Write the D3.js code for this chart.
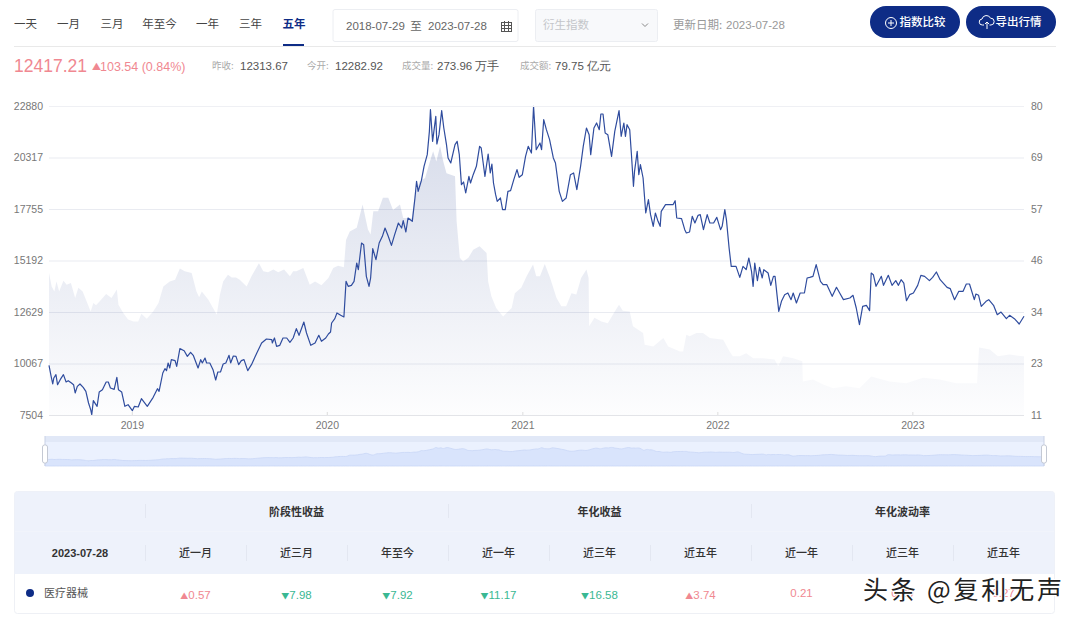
<!DOCTYPE html>
<html>
<head>
<meta charset="utf-8">
<title>医疗器械</title>
<script src="https://cdnjs.cloudflare.com/ajax/libs/d3/7.8.5/d3.min.js"></script>
<style>
  body { margin: 0; background: #fff; }
  svg { display: block; }
  text { font-family: "Noto Sans CJK SC", "Noto Sans", sans-serif; }
  .num { font-family: "Liberation Sans", Arial, sans-serif; }
  .domain { display: none; }
</style>
</head>
<body>
<div id="content"></div>
<script>
// all series start on this date, x values are days after it
var startDate = new Date(2018, 6, 30);

var closeDays = [
  0,4,7,9,13,16,21,27,32,36,42,46,49,53,58,64,69,74,78,80,83,90,94,100,107,111,115,122,127,130,
  136,142,148,156,160,167,173,184,195,203,206,213,217,220,223,226,229,236,239,245,253,259,265,270,279,284,287,292,295,301,
  307,312,316,321,326,331,337,340,345,350,355,360,365,372,379,389,398,407,417,418,422,426,432,438,445,451,457,463,468,473,
  477,482,490,498,505,510,518,523,527,529,535,539,546,552,556,560,566,571,576,579,585,589,594,599,602,606,612,618,624,629,
  635,641,647,654,660,663,668,672,680,685,688,691,697,702,708,712,714,718,724,726,730,735,739,744,747,752,760,764,768,772,
  776,780,786,789,794,800,806,809,816,822,826,829,832,836,839,845,849,854,859,864,870,876,880,886,892,897,903,907,912,919,
  922,926,931,937,944,948,955,961,968,976,982,988,995,1000,1006,1011,1014,1020,1025,1030,1033,1037,1041,1046,1053,1059,1067,1071,1076,1079,
  1082,1087,1090,1094,1096,1101,1104,1107,1112,1117,1122,1126,1131,1135,1140,1144,1146,1154,1168,1172,1175,1184,1190,1193,1199,1204,1209,1215,1219,1225,
  1232,1237,1244,1250,1257,1260,1265,1268,1273,1277,1286,1293,1299,1305,1310,1315,1318,1321,1326,1330,1335,1338,1346,1351,1356,1359,1363,1366,1371,1377,
  1383,1389,1393,1399,1406,1414,1419,1424,1430,1436,1444,1449,1456,1466,1474,1480,1487,1499,1505,1511,1517,1523,1530,1536,1539,1543,1548,1558,1562,1571,
  1578,1585,1590,1595,1600,1605,1611,1618,1626,1632,1639,1648,1654,1661,1668,1681,1687,1695,1703,1711,1717,1723,1732,1735,1740,1745,1754,1759,1768,1775,
  1782,1792,1798,1807,1816,1825
];

var closeValues = [
  9975,9428,9047,9345,9511,9013,9262,9511,9146,9212,9096,9013,8599,8930,9047,8881,8682,8101,7769,7521,8217,7935,8649,8765,9146,9146,8848,8781,9378,8765,
  8649,7935,8018,7720,7935,7902,8317,7935,8383,8814,8682,9594,9810,9710,10092,9843,10257,10208,9926,10805,10705,10423,10622,10473,9843,10257,10092,10340,10092,10092,
  9760,9246,9644,9644,10042,10092,10473,10092,10440,10423,10009,10208,10257,9710,10009,10589,11087,11286,11253,11087,11336,10921,10971,11336,11336,11120,11336,11800,11468,11833,
  12132,11584,10971,11087,11468,11170,11336,11535,11634,12082,12298,12580,12464,12381,14155,13907,13956,14155,15068,14736,16063,15980,14404,13907,14321,15781,15234,16063,16395,16809,
  16395,15947,16478,17058,16809,17174,16610,17307,17141,18302,19131,18634,19165,19878,20458,21620,22698,21122,22366,20989,21454,22648,21785,20956,20293,20044,20956,21122,20458,18966,
  19098,18551,19380,19049,19463,19878,20873,20790,19380,20492,19546,19994,19049,18468,18136,18302,17722,17722,18634,18667,19214,19712,19331,19463,20376,20873,20541,22864,20707,21039,
  20707,22200,21702,21205,20293,20044,18634,18136,18302,19463,19546,18717,19878,20873,21785,21454,20458,21785,22034,21702,22482,22482,21537,21454,20376,21620,22648,21371,22034,21371,
  21951,21702,20541,18883,19629,20624,19463,19961,19297,17556,18219,17473,16892,17556,17141,16892,17639,17970,17970,18169,17307,17274,16726,16561,16610,17390,17058,17440,17473,16726,
  17473,17058,17058,17340,16726,16892,17722,17224,15814,14902,14902,14354,14902,14736,15316,14653,13907,15068,14189,14852,14321,14736,14570,13956,14404,14404,13409,12663,13160,13492,
  13575,13243,13575,13077,13575,13575,14321,14354,14404,14985,14155,13990,13990,13409,13857,13575,13243,13326,13459,12828,11999,12911,12961,12696,14570,14487,13907,14404,13956,14454,
  13956,14189,13956,14238,14072,13193,13492,13575,13956,14454,14404,14189,14354,14620,14238,13857,13790,13243,13658,13658,14023,14023,13243,13525,13459,12911,13160,13243,12961,12497,
  12629,12298,12464,12298,12032,12417
];

var amountDays = [
  0,5,10,14,19,27,33,41,49,55,63,69,78,83,88,95,107,117,127,130,139,148,158,167,173,183,195,205,214,226,
  236,245,254,267,276,281,286,298,307,314,320,326,335,342,350,357,370,379,393,401,410,420,429,440,451,457,463,476,488,498,
  510,523,532,541,552,556,563,576,587,597,602,607,616,625,635,644,657,663,679,685,694,704,713,719,725,732,738,744,760,763,
  769,775,785,794,806,819,822,828,837,850,866,872,884,894,906,912,919,928,938,950,959,968,978,987,996,1006,1010,1011,1021,1034,
  1046,1059,1067,1074,1087,1093,1112,1115,1131,1150,1159,1181,1187,1193,1199,1212,1224,1237,1262,1274,1280,1293,1305,1318,1336,1358,1365,1374,1393,1410,
  1411,1430,1449,1468,1492,1517,1539,1573,1605,1636,1667,1698,1737,1741,1761,1776,1798,1823,1825
];

var amountValues = [
  42.7,39.7,38.6,40.8,38.6,41.0,40.1,40.5,37.1,39.4,38.6,36.8,34.1,36.0,35.5,36.4,38.0,37.1,39.0,35.6,33.8,32.3,31.9,31.9,33.6,32.5,34.1,36.0,39.7,40.8,
  41.2,43.7,43.1,42.7,38.6,37.3,38.6,36.8,34.9,33.4,37.9,40.8,42.3,41.7,41.7,41.2,39.7,42.0,44.9,43.1,42.9,43.5,42.9,43.5,42.0,43.1,43.1,43.8,40.1,40.8,
  40.0,41.6,43.8,44.3,44.0,50.1,52.0,52.8,58.0,52.4,51.3,56.5,56.5,59.5,59.5,56.8,58.0,55.0,55.0,60.2,63.2,63.9,67.6,69.9,67.6,71.0,67.6,65.0,64.3,54.2,
  46.1,45.3,46.1,47.9,48.7,47.2,40.8,37.5,34.9,33.0,34.9,38.2,39.4,42.0,44.6,42.0,42.0,44.7,41.6,37.1,35.3,35.3,38.2,37.9,41.6,43.5,41.6,30.8,32.7,31.9,
  31.5,34.1,35.6,34.3,34.1,30.8,29.3,26.7,26.3,28.2,26.3,25.2,25.2,28.9,28.6,29.3,29.3,28.2,27.8,25.2,24.1,24.1,24.8,23.7,23.7,23.4,21.9,24.1,23.7,23.0,
  18.5,18.9,17.8,17.0,17.4,17.0,19.6,18.5,18.1,19.3,18.9,18.1,18.1,26.1,25.6,24.1,24.5,24.1,24.1
];

var leftTicks = [7504, 10067, 12629, 15192, 17755, 20317, 22880];
var rightTicks = [11, 22.5, 34, 45.5, 57, 68.5, 80];
var yearTicks = [2019, 2020, 2021, 2022, 2023];

var rangeTabs = ["一天", "一月", "三月", "年至今", "一年", "三年", "五年"];
var tabCenters = [25.5, 68.5, 112, 159.5, 207.5, 250.5, 294];

var statLabels = ["昨收:", "今开:", "成交量:", "成交额:"];
var statValues = ["12313.67", "12282.92", "273.96 万手", "79.75 亿元"];

var groupTitles = ["阶段性收益", "年化收益", "年化波动率"];
var columnTitles = ["近一月", "近三月", "年至今", "近一年", "近三年", "近五年", "近一年", "近三年", "近五年"];
var returnValues = [0.57, -7.98, -7.92, -11.17, -16.58, 3.74];
var volatilityValues = [0.21, 0.29, 0.27];

var NAVY = "#0e2c86", RED = "#f08891", GREEN = "#3ab893", GREY = "#666";

var svg = d3.select("#content").append("svg").attr("width", 1080).attr("height", 622);

var defs = svg.append("defs");
var fade = defs.append("linearGradient").attr("id", "fade")
  .attr("gradientUnits", "userSpaceOnUse")
  .attr("x1", 0).attr("x2", 0).attr("y1", 150).attr("y2", 415);
fade.append("stop").attr("offset", 0).attr("stop-color", "#25408f").attr("stop-opacity", 0.17);
fade.append("stop").attr("offset", 1).attr("stop-color", "#25408f").attr("stop-opacity", 0.01);

function dayToDate(d) {
  return d3.timeDay.offset(startDate, d);
}

function label(g, x, y, str, size, fill, anchor, weight, cls) {
  return g.append("text")
    .attr("x", x).attr("y", y)
    .attr("dy", "0.35em")
    .attr("text-anchor", anchor || "start")
    .attr("font-size", size)
    .attr("font-weight", weight || 400)
    .attr("fill", fill)
    .attr("class", cls || null)
    .text(str);
}

/* ---- top bar ---- */
var header = svg.append("g");

rangeTabs.forEach(function (t, i) {
  var active = i == rangeTabs.length - 1;
  label(header, tabCenters[i], 24, t, 11.5, active ? NAVY : "#444", "middle", active ? 700 : 400);
});
header.append("rect").attr("x", 283).attr("y", 44).attr("width", 21).attr("height", 2).attr("fill", NAVY);
header.append("line").attr("x1", 14).attr("x2", 1056).attr("y1", 46.5).attr("y2", 46.5).attr("stroke", "#e9e9e9");

header.append("rect").attr("x", 333).attr("y", 9.5).attr("width", 185).attr("height", 32).attr("rx", 2)
  .attr("fill", "#fff").attr("stroke", "#eceef2");
label(header, 346, 26, "2018-07-29", 11.5, GREY, "start", 400, "num");
label(header, 416, 26, "至", 11.5, GREY, "middle");
label(header, 428, 26, "2023-07-28", 11.5, GREY, "start", 400, "num");

// calendar icon
var cal = header.append("g").attr("stroke", "#555").attr("fill", "none").attr("stroke-width", 1);
cal.append("rect").attr("x", 501.5).attr("y", 22.5).attr("width", 10).attr("height", 9);
[504.5, 508.5].forEach(function (x) {
  cal.append("line").attr("x1", x).attr("x2", x).attr("y1", 21).attr("y2", 31);
});
[25.5, 28.5].forEach(function (y) {
  cal.append("line").attr("x1", 501).attr("x2", 512).attr("y1", y).attr("y2", y);
});

header.append("rect").attr("x", 535.5).attr("y", 9.5).attr("width", 122).attr("height", 32).attr("rx", 2)
  .attr("fill", "#f8f9fb").attr("stroke", "#eceef2");
label(header, 543, 25, "衍生指数", 11.5, "#c4c6ca");
header.append("path").attr("d", "M642 23.5l3 3 3-3").attr("fill", "none").attr("stroke", "#888");
label(header, 673, 25, "更新日期:", 11.5, "#999");
label(header, 726, 25, "2023-07-28", 11.5, "#999", "start", 400, "num");

[{ x: 870, t: "指数比较" }, { x: 966, t: "导出行情" }].forEach(function (b) {
  header.append("rect").attr("x", b.x).attr("y", 6).attr("width", 90).attr("height", 32).attr("rx", 16).attr("fill", NAVY);
  label(header, b.x + 29.5, 22, b.t, 11.5, "#fff", "start", 500);
});
header.append("circle").attr("cx", 891).attr("cy", 23).attr("r", 5.5).attr("fill", "none").attr("stroke", "#fff");
header.append("path").attr("d", "M888 23h6M891 20v6").attr("stroke", "#fff");
header.append("path")
  .attr("d", "M984 25h-1.5a3 3 0 0 1-.5-6a4.5 4.5 0 0 1 8.5-.8a3.3 3.3 0 0 1 .5 6.8h-1.5M987 22v7M985 24l2-2 2 2")
  .attr("fill", "none").attr("stroke", "#fff");

/* ---- quote row ---- */
var quote = svg.append("g");
label(quote, 14, 65.5, "12417.21", 17.5, RED, "start", 400, "num");
label(quote, 92, 67, "▲", 9, RED);
label(quote, 100, 67, "103.54 (0.84%)", 12.5, RED, "start", 400, "num");

var statLabelX = [212, 307, 402, 520];
var statValueX = [240, 335, 437, 555];
statLabels.forEach(function (s, i) {
  label(quote, statLabelX[i], 65.5, s, 9.5, "#aaa");
  label(quote, statValueX[i], 65.5, statValues[i], 11.5, "#555", "start", 400, "num");
});

/* ---- main chart ---- */
var x = d3.scaleTime().domain([dayToDate(0), dayToDate(1825)]).range([49, 1024]);
var yLeft = d3.scaleLinear().domain([7504, 22880]).range([415, 106]);
var yRight = d3.scaleLinear().domain([11, 80]).range([415, 106]);

var chart = svg.append("g");

var gridAxis = d3.axisLeft(yLeft).tickValues(leftTicks.slice(1)).tickSize(-975).tickFormat("");
chart.append("g").attr("transform", "translate(49,0)").call(gridAxis)
  .selectAll(".tick line").attr("stroke", "#e9ebf1");

var amountArea = d3.area()
  .x(function (d) { return x(dayToDate(d[0])); })
  .y0(415)
  .y1(function (d) { return yRight(d[1]); });

chart.append("path")
  .datum(d3.zip(amountDays, amountValues))
  .attr("d", amountArea)
  .attr("fill", "url(#fade)");

var closeLine = d3.line()
  .x(function (d) { return x(dayToDate(d[0])); })
  .y(function (d) { return yLeft(d[1]); });

chart.append("path")
  .datum(d3.zip(closeDays, closeValues))
  .attr("d", closeLine)
  .attr("fill", "none")
  .attr("stroke", "#2f4c9e")
  .attr("stroke-width", 1.2)
  .attr("stroke-linejoin", "round");

var leftAxis = d3.axisLeft(yLeft).tickValues(leftTicks).tickSize(0).tickPadding(6).tickFormat(d3.format("d"));
var la = chart.append("g").attr("transform", "translate(49,0)").call(leftAxis);
la.selectAll("text").attr("class", "num").attr("fill", "#777").attr("font-size", 10.5);

var rightAxis = d3.axisRight(yRight).tickValues(rightTicks).tickSize(0).tickPadding(7).tickFormat(d3.format(".0f"));
var ra = chart.append("g").attr("transform", "translate(1024,0)").call(rightAxis);
ra.selectAll("text").attr("class", "num").attr("fill", "#777").attr("font-size", 10.5);

var bottomAxis = d3.axisBottom(x)
  .tickValues(yearTicks.map(function (y) { return new Date(y, 0, 1); }))
  .tickSize(-3).tickPadding(7)
  .tickFormat(d3.timeFormat("%Y"));
var ba = chart.append("g").attr("transform", "translate(0,415)").call(bottomAxis);
ba.selectAll("text").attr("class", "num").attr("fill", "#777").attr("font-size", 10.5);
ba.selectAll("line").attr("stroke", "#ddd");
chart.append("line").attr("x1", 49).attr("x2", 1024).attr("y1", 415.5).attr("y2", 415.5).attr("stroke", "#e3e4e8");
chart.append("line").attr("x1", 49).attr("x2", 1024).attr("y1", 106.5).attr("y2", 106.5).attr("stroke", "#eff0f4");

/* ---- range slider under the chart ---- */
var miniX = d3.scaleTime().domain(x.domain()).range([45, 1044]);
var miniY = d3.scaleLinear().domain([7504, 22880]).range([461, 447]);

var mini = svg.append("g");
mini.append("rect").attr("x", 45).attr("y", 436).attr("width", 999).attr("height", 30).attr("fill", "#ebf1fe");
mini.append("rect").attr("x", 45).attr("y", 436).attr("width", 999).attr("height", 6).attr("fill", "#e1e8f7");
mini.append("path")
  .datum(d3.zip(closeDays, closeValues))
  .attr("d", d3.area()
    .x(function (d) { return miniX(dayToDate(d[0])); })
    .y0(466)
    .y1(function (d) { return miniY(d[1]); })
    .curve(d3.curveBasis))
  .attr("fill", "#d9e4fc")
  .attr("stroke", "#c9d7f6")
  .attr("stroke-width", 0.8);

[45, 1044].forEach(function (hx) {
  mini.append("rect").attr("x", hx - 0.5).attr("y", 436).attr("width", 1).attr("height", 30).attr("fill", "#c9d2e6");
  mini.append("rect").attr("x", hx - 2.5).attr("y", 445).attr("width", 5).attr("height", 18).attr("rx", 2)
    .attr("fill", "#fff").attr("stroke", "#c4c9d4");
});

/* ---- table ---- */
var colX = d3.scaleBand().domain(d3.range(9)).range([145, 1054]);
var groupX = d3.scaleBand().domain(d3.range(3)).range([145, 1054]);

var table = svg.append("g");
table.append("rect").attr("x", 14.5).attr("y", 491.5).attr("width", 1040).attr("height", 122).attr("rx", 3)
  .attr("fill", "#fff").attr("stroke", "#eef0f5");
table.append("path")
  .attr("d", "M14.5 574V494.5a3 3 0 0 1 3-3H1051.5a3 3 0 0 1 3 3V574Z")
  .attr("fill", "#eef2fb");
table.append("line").attr("x1", 15).attr("x2", 1054).attr("y1", 531.5).attr("y2", 531.5).attr("stroke", "#f1f4fb");

groupTitles.forEach(function (t, i) {
  var gx = groupX(i);
  label(table, gx + groupX.bandwidth() / 2, 512, t, 11, "#333", "middle", 700);
  table.append("line").attr("x1", gx + 0.5).attr("x2", gx + 0.5).attr("y1", 504).attr("y2", 518).attr("stroke", "#e3e7f1");
});

label(table, 80, 553, "2023-07-28", 11, "#333", "middle", 700, "num");

columnTitles.forEach(function (t, i) {
  var cx = colX(i) + colX.bandwidth() / 2;
  label(table, cx, 553, t, 11, "#333", "middle", 500);
  table.append("line").attr("x1", colX(i) + 0.5).attr("x2", colX(i) + 0.5).attr("y1", 545).attr("y2", 561).attr("stroke", "#e3e7f1");
});

table.append("circle").attr("cx", 30).attr("cy", 593).attr("r", 4).attr("fill", NAVY);
label(table, 44, 593, "医疗器械", 11, "#555");

function arrowValue(cx, v) {
  var up = v >= 0;
  var t = table.append("text")
    .attr("x", cx).attr("y", 593).attr("dy", "0.35em")
    .attr("text-anchor", "middle")
    .attr("fill", up ? RED : GREEN);
  t.append("tspan").attr("font-size", 8).text(up ? "▲" : "▼");
  t.append("tspan").attr("class", "num").attr("font-size", 11.5).text(Math.abs(v).toFixed(2));
}

returnValues.forEach(function (v, i) {
  arrowValue(colX(i) + colX.bandwidth() / 2, v);
});
volatilityValues.forEach(function (v, i) {
  var j = i + returnValues.length;
  label(table, colX(j) + colX.bandwidth() / 2, 593, v.toFixed(2), 11.5, RED, "middle", 400, "num");
});

/* ---- watermark ---- */
svg.append("text")
  .attr("x", 863).attr("y", 599)
  .attr("font-size", 25)
  .attr("fill", "#222")
  .attr("stroke", "#fff")
  .attr("stroke-width", 2)
  .attr("paint-order", "stroke")
  .attr("textLength", 199)
  .text("头条 @复利无声");
</script>
</body>
</html>
